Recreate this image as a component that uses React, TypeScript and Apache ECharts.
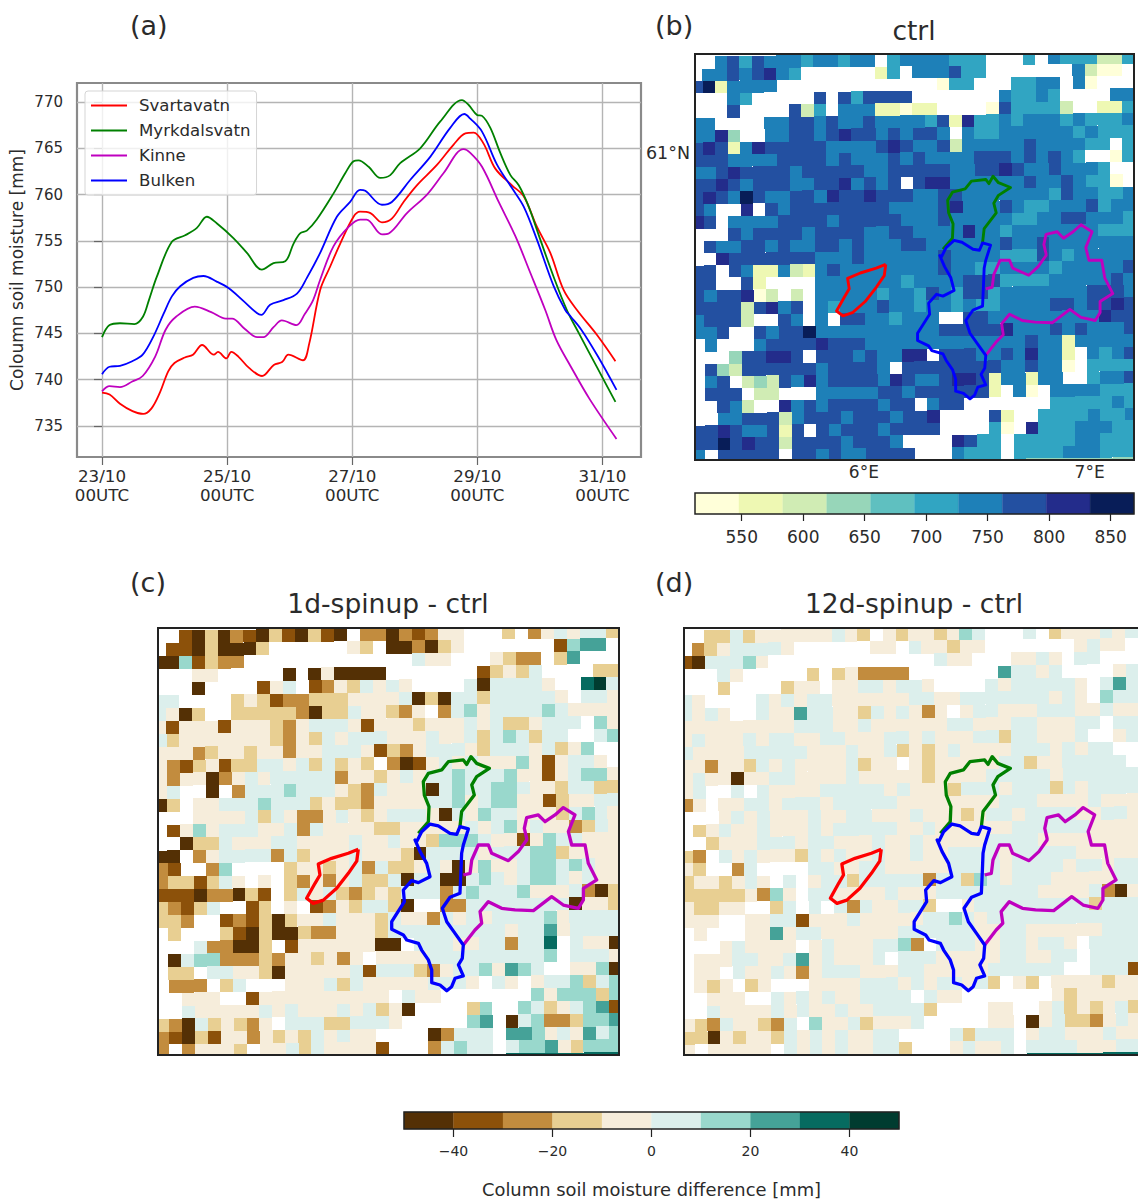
import React, { useEffect, useRef } from "react";
import * as echarts from "echarts";

const FONT = "DejaVu Sans";
const TEXT = "#2b2b2b";

// ---- Panel (a): time series, hours since 23/10 00UTC ----
const timeTicks = [0, 48, 96, 144, 192];
const timeLabels = ["23/10\n00UTC", "25/10\n00UTC", "27/10\n00UTC", "29/10\n00UTC", "31/10\n00UTC"];
const moistureTicks = [735, 740, 745, 750, 755, 760, 765, 770];

const svartavatn = [[0,738.6],[2.9,738.4],[6.9,737.4],[11.7,736.6],[15.8,736.3],[19,736.9],[22.2,738.6],[25.4,740.9],[27.8,741.8],[31.8,742.4],[34.9,742.7],[38.4,743.75],[42.9,742.7],[44.5,743],[47.7,742.3],[49.6,743],[52.3,742.5],[56.3,741.3],[61.4,740.4],[65.9,741.6],[69.1,741.9],[71.5,742.7],[77.1,742.1],[79.5,743.9],[83.7,749.7],[87.5,752.2],[91.4,754.7],[96.5,757.6],[99,758.15],[103,758],[107.4,757],[111.2,757.4],[115.7,759.2],[120.8,761],[128.5,763.2],[134.9,765.4],[139.4,766.6],[142.6,766.7],[146.4,765.5],[150.9,762.8],[157.3,761],[161.8,759.8],[166.9,756.5],[172,753.7],[177.1,749.7],[182.3,747.5],[190,744.8],[197,742]];
const myrkdalsvatn = [[0,744.6],[2.9,745.9],[6.9,746.1],[12.4,746],[15.7,746.8],[18,748.6],[21,751.1],[26.8,754.9],[31.9,755.6],[36.4,756.4],[40.2,757.6],[44,756.9],[50.4,755.3],[55.6,753.7],[61.3,751.9],[65.8,752.6],[70.3,752.8],[73.5,754.7],[76,755.8],[78.6,756.1],[82.4,757.3],[88.8,760.1],[93.3,762.3],[96.5,763.6],[98.4,763.7],[102.3,763],[106.8,761.8],[110.6,762.1],[114.4,763.4],[122.1,765],[129.8,767.9],[138.1,770.2],[140.6,769.7],[143.9,768.6],[145.8,768.5],[149,767.2],[152.8,764.5],[156.7,762.1],[159.9,761],[163.7,758.7],[168.2,755.1],[173.3,751.1],[178.4,747.5],[183,745],[190,741.3],[197,737.6]];
const kinne = [[0,738.75],[2.9,739.3],[6.9,739.2],[11.6,739.8],[15.6,740.4],[20.4,742.5],[24.4,745.4],[28.4,746.8],[35.6,747.9],[41.9,747.3],[47.5,746.6],[49.9,746.6],[54.7,745.5],[59.5,744.6],[61.9,744.6],[65.9,745.7],[69,746.4],[74.6,745.9],[77.8,747.1],[81,748.6],[83.7,750.8],[88.8,754.4],[94.6,756.5],[99,757.3],[101.5,757.3],[107.4,755.7],[110,755.8],[117,758],[124.7,760],[131,762.3],[138.7,764.9],[141.3,764.5],[145.8,763],[152.2,759.2],[158.6,755.5],[164.4,751.5],[170.1,747.5],[174.3,744.3],[179.9,741.4],[187.1,737.9],[197.4,733.6]];
const bulken = [[0,740.6],[2.9,741.4],[6.9,741.5],[11.6,742],[15.6,742.7],[19.6,744.6],[23.6,747.1],[26.8,749],[30,750.1],[35,751],[38.9,751.2],[44,750.6],[48.5,749.9],[53.9,748.6],[59.4,747.2],[61.1,747],[64.5,748.1],[69.6,748.6],[74.8,749.3],[78.6,751],[83.7,753.7],[90.1,757.6],[95.2,759.2],[99,760.5],[101,760.4],[107.4,758.9],[111.2,759.2],[118.3,761.6],[126,764.1],[133.6,767.2],[139,768.7],[141.3,768.2],[145.8,766.8],[151.6,763.2],[157.3,760.7],[161.8,758.7],[166.9,755.1],[173.3,750.1],[177.8,747.5],[179.9,746.8],[183.9,745.4],[190.3,742.5],[197.4,738.9]];

// ---- Catchment outlines, in map cell units ----
const outlineSvartavatn = [[15.87,17.1],[15.1,17.41],[13.81,17.8],[12.78,18.24],[12.91,19.09],[12.53,19.73],[11.88,20.89],[12.4,21.28],[13.17,21.03],[14.2,20.12],[15.1,18.96],[15.75,18.02],[15.87,17.1]];
const outlineMyrkdalsvatn = [[20.51,15.87],[21.28,14.97],[21.33,13.81],[20.97,12.91],[20.89,11.88],[21.28,11.23],[22.31,10.97],[22.82,10.33],[23.98,10.2],[24.24,10.54],[24.57,9.94],[25.01,10.46],[25.99,10.85],[25.01,11.49],[24.63,12.13],[24.83,12.91],[24.24,13.68],[23.85,14.19],[23.72,15.35]];
const outlineKinne = [[23.98,24.5],[24.88,23.34],[25.4,22.82],[25.27,21.92],[25.91,21.15],[26.94,21.66],[27.97,21.79],[29.39,21.84],[30.8,20.76],[31.7,21.41],[32.86,21.66],[33.25,21.02],[33.25,20.12],[34.28,19.47],[33.63,18.19],[33.38,16.77],[32.35,16.77],[32.09,15.74],[32.6,14.45],[31.7,13.88],[31.06,14.45],[30.29,14.97],[29.77,14.45],[28.87,14.66],[28.69,15.48],[28.87,16.25],[28.87,16.38],[28.23,17.28],[27.46,17.98],[26.17,17.41],[25.91,16.77],[25.14,16.77],[24.63,17.93],[24.5,18.96],[23.98,19.09]];
const outlineBulken = [[20.38,16.51],[20.76,15.74],[21.41,15.15],[22.05,15.3],[22.95,15.87],[23.47,15.95],[23.72,15.35],[24.37,15.53],[23.98,16.77],[23.85,17.41],[23.8,18.7],[23.72,20.5],[22.95,20.81],[22.36,21.66],[22.7,22.7],[23.34,23.6],[23.98,24.5],[23.9,25.53],[23.6,26.04],[23.98,26.89],[23.34,27.07],[23.08,27.72],[22.7,28.03],[22.18,27.59],[21.54,27.41],[21.54,26.43],[21.28,25.65],[20.76,24.89],[20.51,24.37],[19.61,24.11],[19.35,23.72],[18.45,23.29],[18.45,22.7],[19.43,21.15],[19.35,20.25],[19.99,19.53],[20.51,19.68],[21.41,19.22],[21.15,18.19],[20.64,17.28],[20.25,16.38],[20.38,16.51]];

// ---- Map cells: one character per cell, the colour-bar bin; "." has no data ----
const ctrlRows = [
"..675 76665 66566 .5666 6555. ..5.6 55522 5",
".6676 7865. ..... 15.66 6755. ..... .6200 .",
"79166 66... ..... ..... 055.. .5566 .60.. .",
"...65 ..... 7.757 777.. ..... 65565 ....6 6",
"...7. ...72 5.666 11011 ....0 75555 2..11 5",
"66... .6677 67667 66665 71855 65666 56555 6",
"6683. .6677 67877 67677 6.655 66666 65655 5",
"78716 87777 76666 78766 72666 66766 6655. 5",
"77766 66777 76766 67676 66677 76767 65..0 5",
"66787 77767 77776 67777 76677 87667 6665. .",
"77876 77766 77867 67.78 86666 66766 76550 .",
"78769 76677 68778 77766 77666 66665 76655 6",
"76..8 .7677 77777 76666 78666 76556 66756 6",
"87.66 66777 76777 77666 76666 65566 77666 5",
"...76 77776 77776 67766 66866 56666 66655 5",
".7667 76766 77676 66776 66666 76676 66666 6",
"..877 77777 66676 66666 76666 55576 56666 6",
"77.76 11621 67666 66666 76655 66665 66666 7",
"77..7 1.... 66666 66566 66777 55556 66667 6",
"76778 02.2. 66666 56657 65775 66666 66777 6",
"77772 7867. 65666 76656 65655 66667 76778 7",
"67772 ..76. 6.776 65666 ..776 66666 66687 7",
"667.. 76779 66666 66666 77777 86667 67666 7",
".6... 67777 87776 66666 66666 66766 16666 6",
"...37 7887. 77767 6688. 77766 76866 1.656 7",
".7327 77777 67777 6.777 77777 66766 0.555 5",
".67.2 32768 67777 68766 78871 66166 ..566 7",
".777. 22... 66666 77677 77771 .60.6 66655 5",
"..762 ..867 67777 677.6 77... ....5 55556 5",
"..667 77267 77677 76778 ....7 1..55 55655 6",
"77876 6717. 76777 67777 ....5 0.855 56665 5",
"77978 77277 77677 76... .8755 .5555 56655 5",
"6.777 77.77 67667 777.. .6555 .5555 66655 5",
"..... ..... ..... ..... 33333 33333 33333 3",
];
const spinup1Rows = [
"..103 02103 10310 .2202 1244. ..3.2 45455 3",
".1103 0003. ..... 43.00 2034. ..... .1677 .",
"00613 22... ..... ..... 544.. .4322 .37.. .",
"...44 ..... 0.040 000.. ..... 13435 ....3 3",
"...0. ...14 5.124 35454 ....5 05555 4..89 5",
"55... .3431 22333 44445 03055 35555 54.55 4",
"5403. .3333 32033 54432 4.256 45555 65444 4",
"41444 14443 24555 41444 34445 45334 555.6 4",
"53444 44443 24354 55544 45445 35653 55..5 6",
"44423 44344 24455 54132 45554 35554 5346. .",
"42134 13355 45353 43.20 14545 44464 14554 .",
"42440 24545 55552 44345 45565 55644 14566 4",
"45..0 .2555 65554 32544 40565 56654 43553 3",
"03.44 55565 55343 32444 45564 56644 13445 5",
"...44 44535 42245 43455 54054 65544 43565 4",
".1464 55544 52544 44334 44445 45645 44235 4",
"..033 54445 54444 54454 43666 54414 65544 4",
"00.24 55552 53444 54443 05555 45556 63444 4",
"21..2 6.... 34434 52533 45404 64456 65654 4",
"23313 54.4. 32424 53350 55005 65456 65454 4",
"11102 2031. 35453 23435 55256 55564 44520 3",
"32135 ..13. 4.124 35530 ..225 55555 55044 3",
"332.. 12130 34454 44354 42545 45555 64555 5",
".3... 31030 03224 44355 55555 55455 74555 5",
"...52 2003. 14444 4400. 55544 55255 8.544 0",
".0566 22232 44342 4.444 45555 55555 6.555 4",
".33.5 54430 44444 51555 32455 64765 ..446 0",
".222. 35... 44453 54444 45554 .54.4 55635 6",
"..444 ..144 44444 444.5 44... ....6 46663 6",
"..544 44454 54445 45340 ....3 6..65 34567 1",
"32053 4324. 55533 5554. ....6 7.056 22366 7",
"21031 44243 43545 44... .0255 5.776 45475 6",
"2.244 43.44 53544 441.. .2565 5.566 74366 6",
"..... ..... ..... ..... 99999 9.888 88888 8",
];
const spinup12Rows = [
"..335 34444 44543 .4344 3465. ..5.3 44454 5",
".2345 5554. ..... 44.54 4344. ..... .4544 .",
"10555 64... ..... ..... 544.. .4454 .55.. .",
"...54 ..... 3.342 222.. ..... 75545 ....4 5",
"...3. ...34 4.445 54554 ....5 45555 54.57 5",
"54... .5454 55444 44455 44555 55554 54.65 5",
"5454. .5447 55443 54542 4.455 44455 54454 4",
"44444 44445 55445 44444 45544 45544 455.5 5",
"45444 54554 45544 45545 44455 35544 45..4 5",
"54444 55555 44454 45343 45444 45554 5455. .",
"44244 35454 44453 44.43 44444 55344 55555 .",
"45440 44554 44454 44443 44445 55554 55555 5",
"45..5 .5444 45555 54544 43555 45553 54555 5",
"24.44 55455 54555 55444 44444 55544 44544 4",
"...45 45444 54455 44454 44345 54555 54455 4",
".3454 45444 54555 55445 44444 45555 55444 4",
"..344 45554 55444 54454 44445 55544 44444 4",
"32.54 54443 54544 54454 45555 45555 54444 4",
"43..2 5.... 55445 54444 45555 45555 45545 5",
"34434 54.5. 45535 55552 55365 45554 44445 5",
"33333 4264. 55444 45444 55555 55544 44520 4",
"43344 ..35. 5.525 44553 ..455 55555 55355 5",
"444.. 44551 44454 44445 56545 55555 55555 5",
".4... 44745 54444 44555 55544 55444 44455 5",
"...45 4444. 45444 5562. 55544 55455 4.555 5",
".4445 54457 45444 5.555 44444 55445 5.555 5",
".44.5 44542 45554 44554 44445 55555 ..555 1",
".434. 34... 44445 55454 55453 .43.4 44434 4",
"..444 ..545 45445 555.5 44... ....4 34444 4",
"..544 44545 44544 55553 ....4 4..45 34345 3",
"43254 4325. 64453 4445. ....4 4.045 33245 4",
"33043 44354 54544 55... .5355 5.455 44454 4",
"4.444 44.54 54544 553.. .4544 5.555 54445 5",
"..... ..... ..... ..... 99888 8.888 88888 8",
];

// ---- Colour bars ----
const moistureEdges = [512, 547.7, 583.4, 619.1, 654.8, 690.5, 726.2, 761.9, 797.6, 833.3, 869];
const moistureColors = ["#ffffd9", "#eef8b3", "#d0ecb4", "#97d6b9", "#5fc0c0", "#31a5c2", "#1e80b8", "#2350a1", "#232c8b", "#081d58"];
const moistureBarTicks = [550, 600, 650, 700, 750, 800, 850];
const diffEdges = [-50, -40, -30, -20, -10, 0, 10, 20, 30, 40, 50];
const diffColors = ["#543005", "#8c510a", "#c28c3e", "#e8cf92", "#f6eddb", "#dcefec", "#99d8cc", "#45a298", "#066b60", "#003c30"];
const diffBarTicks = [-40, -20, 0, 20, 40];

const lonTicks = [14.1, 32.4];
const lonLabels = ["6°E", "7°E"];
const latTicks = [8.05];
const latLabels = ["61°N"];

const parseCells = (rows: string[]) => {
  const out: number[][] = [];
  rows.forEach((row, r) => {
    row.replace(/ /g, "").split("").forEach((ch, i) => {
      if (ch !== ".") out.push([i, r, Number(ch)]);
    });
  });
  return out;
};

const cellRender = (colors: string[]) => (params: any, api: any) => {
  const i = api.value(0);
  const r = api.value(1);
  const xs = i + 0.008 * r;
  const ys = r + 0.2 - 0.012 * i;
  const lastCol = i === 35 ? 1.5 : 1;
  const p0 = api.coord([xs, ys]);
  const p1 = api.coord([xs + lastCol, ys + 1]);
  const x0 = Math.round(p0[0]);
  const y0 = Math.round(p0[1]);
  const shape = echarts.graphic.clipRectByRect(
    { x: x0, y: y0, width: Math.round(p1[0]) - x0, height: Math.round(p1[1]) - y0 },
    params.coordSys
  );
  if (!shape) return null;
  return { type: "rect", shape, style: { fill: colors[api.value(2)] } };
};

const barRender = (colors: string[]) => (_params: any, api: any) => {
  const p0 = api.coord([api.value(0), 1]);
  const p1 = api.coord([api.value(1), 0]);
  return {
    type: "rect",
    shape: { x: p0[0], y: p0[1], width: p1[0] - p0[0], height: p1[1] - p0[1] },
    style: { fill: colors[api.value(2)], stroke: colors[api.value(2)], lineWidth: 0.3 },
  };
};

const binData = (edges: number[]) => edges.slice(0, -1).map((e, k) => [e, edges[k + 1], k]);

const catchments = [
  { name: "Myrkdalsvatn", color: "#008000", data: outlineMyrkdalsvatn },
  { name: "Kinne", color: "#bf00bf", data: outlineKinne },
  { name: "Bulken", color: "#0000ff", data: outlineBulken },
  { name: "Svartavatn", color: "#ff0000", data: outlineSvartavatn },
];

const mapBoxes = [
  { left: 695, top: 54, width: 439, height: 406 },
  { left: 158, top: 628, width: 461, height: 427 },
  { left: 684, top: 628, width: 461, height: 427 },
];
const barBoxes = [
  { left: 695, top: 493, width: 439, height: 21 },
  { left: 404, top: 1112, width: 495, height: 17 },
];

const titleItem = (text: string, left: number, top: number, fontSize: number, center = false) => ({
  text,
  left,
  top,
  textAlign: center ? "center" : "left",
  padding: 0,
  textStyle: { fontFamily: FONT, fontSize, fontWeight: "normal", color: TEXT },
});

const frameRect = (b: any, lineWidth: number) => ({
  type: "rect",
  silent: true,
  z: 100,
  shape: { x: b.left, y: b.top, width: b.width, height: b.height },
  style: { fill: "none", stroke: "#222", lineWidth },
});

export default function App() {
  const ref = useRef<HTMLDivElement>(null);
  useEffect(() => {
    const chart = echarts.init(ref.current!, undefined, { renderer: "svg" });

    const label = { fontFamily: FONT, color: TEXT };
    const hiddenMapX = { type: "value", min: 0.405, max: 36, show: false };
    const hiddenMapY = { type: "value", min: 0, max: 33, inverse: true, show: false };

    const lineSeries = [
      { name: "Svartavatn", color: "#ff0000", data: svartavatn },
      { name: "Myrkdalsvatn", color: "#008000", data: myrkdalsvatn },
      { name: "Kinne", color: "#bf00bf", data: kinne },
      { name: "Bulken", color: "#0000ff", data: bulken },
    ].map((s) => ({
      type: "line",
      name: s.name,
      data: s.data,
      xAxisIndex: 0,
      yAxisIndex: 0,
      showSymbol: false,
      symbol: "none",
      smooth: 0.35,
      lineStyle: { color: s.color, width: 1.8 },
      itemStyle: { color: s.color },
      z: 5,
    }));

    const mapPanels = [
      { grid: 1, rows: ctrlRows, colors: moistureColors, width: 2.9 },
      { grid: 2, rows: spinup1Rows, colors: diffColors, width: 3.3 },
      { grid: 3, rows: spinup12Rows, colors: diffColors, width: 3.3 },
    ];
    const mapSeries = mapPanels.flatMap((p) => [
      {
        type: "custom",
        xAxisIndex: p.grid,
        yAxisIndex: p.grid,
        renderItem: cellRender(p.colors),
        data: parseCells(p.rows),
        encode: { x: 0, y: 1 },
        silent: true,
        z: 2,
      },
      ...catchments.map((c) => ({
        type: "line",
        name: c.name,
        xAxisIndex: p.grid,
        yAxisIndex: p.grid,
        data: c.data,
        symbol: "none",
        showSymbol: false,
        silent: true,
        lineStyle: { color: c.color, width: p.width, join: "round" },
        itemStyle: { color: c.color },
        z: 6,
      })),
    ]);

    chart.setOption({
      animation: false,
      backgroundColor: "#ffffff",
      title: [
        titleItem("(a)", 130, 12, 27),
        titleItem("(b)", 655, 12, 27),
        titleItem("(c)", 130, 569, 27),
        titleItem("(d)", 655, 569, 27),
        titleItem("ctrl", 914, 17, 26.5, true),
        titleItem("1d-spinup - ctrl", 388, 590, 26.5, true),
        titleItem("12d-spinup - ctrl", 914, 590, 26.5, true),
      ],
      legend: {
        data: ["Svartavatn", "Myrkdalsvatn", "Kinne", "Bulken"],
        orient: "vertical",
        left: 85,
        top: 91,
        padding: [6, 6, 6, 6],
        itemWidth: 36,
        itemHeight: 2,
        itemGap: 8,
        icon: "rect",
        borderColor: "#d5d5d5",
        borderWidth: 1,
        borderRadius: 3,
        backgroundColor: "rgba(255,255,255,0.8)",
        selectedMode: false,
        textStyle: { fontFamily: FONT, fontSize: 16.6, color: TEXT, padding: [0, 0, 0, 7] },
      },
      grid: [
        { left: 77, top: 83, width: 564, height: 374, show: true, borderColor: "#8a8a8a", borderWidth: 2.2, backgroundColor: "transparent" },
        ...mapBoxes,
        ...barBoxes,
      ],
      xAxis: [
        {
          gridIndex: 0,
          type: "value",
          min: -9.6,
          max: 206.8,
          axisLine: { show: false },
          axisTick: { show: true, length: 8, customValues: timeTicks, lineStyle: { color: "#666", width: 1.2 } },
          splitLine: { show: true, lineStyle: { color: "#b4b4b4", width: 1.4 } },
          axisLabel: {
            ...label,
            fontSize: 16.7,
            lineHeight: 19,
            margin: 9,
            customValues: timeTicks,
            formatter: (v: number) => timeLabels[timeTicks.indexOf(v)] ?? "",
          },
        },
        {
          gridIndex: 1,
          type: "value",
          min: 0.405,
          max: 36,
          axisLine: { show: false },
          axisTick: { show: false, customValues: lonTicks },
          splitLine: { show: false },
          axisLabel: {
            ...label,
            fontSize: 17,
            margin: 3,
            customValues: lonTicks,
            formatter: (v: number) => lonLabels[lonTicks.indexOf(v)] ?? "",
          },
        },
        { gridIndex: 2, ...hiddenMapX },
        { gridIndex: 3, ...hiddenMapX },
        {
          gridIndex: 4,
          type: "value",
          min: 512,
          max: 869,
          axisLine: { show: false },
          axisTick: { show: true, length: 7, customValues: moistureBarTicks, lineStyle: { color: "#222", width: 1.2 } },
          splitLine: { show: false },
          axisLabel: { ...label, fontSize: 17, margin: 14, customValues: moistureBarTicks },
        },
        {
          gridIndex: 5,
          type: "value",
          min: -50,
          max: 50,
          axisLine: { show: false },
          axisTick: { show: true, length: 8, customValues: diffBarTicks, lineStyle: { color: "#222", width: 1.2 } },
          splitLine: { show: false },
          axisLabel: {
            ...label,
            fontSize: 14,
            margin: 15,
            customValues: diffBarTicks,
            formatter: (v: number) => String(v).replace("-", "\u2212"),
          },
          name: "Column soil moisture difference [mm]",
          nameLocation: "middle",
          nameGap: 51,
          nameTextStyle: { ...label, fontSize: 17.9 },
        },
      ],
      yAxis: [
        {
          gridIndex: 0,
          type: "value",
          min: 731.65,
          max: 772.05,
          axisLine: { show: false },
          axisTick: { show: true, length: 8, customValues: moistureTicks, lineStyle: { color: "#666", width: 1.2 } },
          splitLine: { show: true, lineStyle: { color: "#b4b4b4", width: 1.4 } },
          axisLabel: { ...label, fontSize: 15, margin: 14, customValues: moistureTicks },
          name: "Coloumn soil moisture [mm]",
          nameLocation: "middle",
          nameRotate: 90,
          nameGap: 52,
          nameTextStyle: { ...label, fontSize: 17 },
        },
        {
          gridIndex: 1,
          type: "value",
          min: 0,
          max: 33,
          inverse: true,
          axisLine: { show: false },
          axisTick: { show: false, customValues: latTicks },
          splitLine: { show: false },
          axisLabel: {
            ...label,
            fontSize: 17.5,
            margin: 5,
            customValues: latTicks,
            formatter: (v: number) => latLabels[latTicks.indexOf(v)] ?? "",
          },
        },
        { gridIndex: 2, ...hiddenMapY },
        { gridIndex: 3, ...hiddenMapY },
        { gridIndex: 4, type: "value", min: 0, max: 1, show: false },
        { gridIndex: 5, type: "value", min: 0, max: 1, show: false },
      ],
      series: [
        ...lineSeries,
        ...mapSeries,
        {
          type: "custom",
          xAxisIndex: 4,
          yAxisIndex: 4,
          renderItem: barRender(moistureColors),
          data: binData(moistureEdges),
          encode: { x: [0, 1] },
          silent: true,
        },
        {
          type: "custom",
          xAxisIndex: 5,
          yAxisIndex: 5,
          renderItem: barRender(diffColors),
          data: binData(diffEdges),
          encode: { x: [0, 1] },
          silent: true,
        },
      ],
      graphic: [
        ...mapBoxes.map((b) => frameRect(b, 2)),
        ...barBoxes.map((b) => frameRect(b, 1.5)),
      ],
    });
    return () => chart.dispose();
  }, []);
  return (
    <div
      ref={ref}
      style={{ position: "absolute", left: 0, top: 0, width: 1138, height: 1203 }}
    />
  );
}
